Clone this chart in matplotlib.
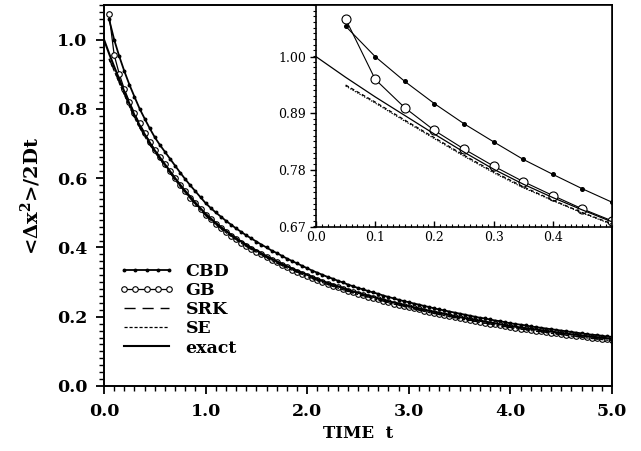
import numpy as np
import matplotlib
matplotlib.use("Agg")
import matplotlib.pyplot as plt
from matplotlib.ticker import MultipleLocator

plt.rcParams['font.family'] = ['DejaVu Serif']
plt.rcParams['mathtext.fontset'] = 'custom'
plt.rcParams['mathtext.rm'] = 'DejaVu Serif:bold'
plt.rcParams['mathtext.default'] = 'rm'

# ---------------- data ----------------
time_step = 0.05
t_mark = np.round(np.arange(1, 101) * time_step, 2)          # 0.05 ... 5.00
t_exact = np.round(np.arange(0, 101) * time_step, 2)         # 0.00 ... 5.00
t_coarse = np.round(np.r_[np.arange(1, 11) * 0.05, np.arange(6, 51) * 0.1], 2)

exact = [1.000, 0.960, 0.922, 0.886, 0.850, 0.815, 0.782, 0.753, 0.727, 0.703,
         0.680, 0.660, 0.640, 0.620, 0.600, 0.581, 0.563, 0.546, 0.529, 0.513,
         0.497, 0.484, 0.471, 0.459, 0.448, 0.437, 0.427, 0.417, 0.408, 0.399,
         0.391, 0.383, 0.375, 0.367, 0.360, 0.353, 0.346, 0.339, 0.333, 0.327,
         0.321, 0.315, 0.309, 0.303, 0.298, 0.293, 0.288, 0.283, 0.278, 0.273,
         0.269, 0.265, 0.261, 0.257, 0.253, 0.249, 0.245, 0.241, 0.238, 0.234,
         0.231, 0.227, 0.224, 0.220, 0.217, 0.214, 0.211, 0.208, 0.205, 0.202,
         0.199, 0.196, 0.194, 0.191, 0.188, 0.186, 0.183, 0.181, 0.178, 0.176,
         0.173, 0.171, 0.169, 0.167, 0.165, 0.163, 0.161, 0.159, 0.157, 0.155,
         0.153, 0.151, 0.149, 0.148, 0.146, 0.144, 0.142, 0.141, 0.139, 0.138,
         0.136]

gb = [1.073, 0.956, 0.901, 0.857, 0.821, 0.788, 0.758, 0.731, 0.705, 0.682,
      0.661, 0.640, 0.620, 0.600, 0.580, 0.562, 0.544, 0.527, 0.511, 0.495,
      0.481, 0.468, 0.456, 0.445, 0.434, 0.424, 0.414, 0.405, 0.396, 0.388,
      0.380, 0.372, 0.364, 0.357, 0.350, 0.343, 0.336, 0.330, 0.324, 0.318,
      0.312, 0.306, 0.300, 0.295, 0.290, 0.285, 0.280, 0.275, 0.270, 0.266,
      0.262, 0.258, 0.254, 0.250, 0.246, 0.242, 0.238, 0.235, 0.231, 0.228,
      0.224, 0.221, 0.217, 0.214, 0.211, 0.208, 0.205, 0.202, 0.199, 0.196,
      0.193, 0.191, 0.188, 0.185, 0.183, 0.180, 0.178, 0.175, 0.173, 0.170,
      0.168, 0.166, 0.164, 0.162, 0.160, 0.158, 0.156, 0.154, 0.152, 0.150,
      0.148, 0.146, 0.145, 0.143, 0.141, 0.139, 0.138, 0.136, 0.135, 0.133]

cbd = [1.059, 1.000, 0.952, 0.909, 0.870, 0.835, 0.801, 0.772, 0.744, 0.718,
       0.696, 0.676, 0.656, 0.636, 0.616, 0.597, 0.579, 0.562, 0.545, 0.528,
       0.514, 0.501, 0.489, 0.477, 0.466, 0.455, 0.445, 0.435, 0.426, 0.417,
       0.408, 0.400, 0.391, 0.384, 0.376, 0.368, 0.361, 0.354, 0.347, 0.340,
       0.333, 0.327, 0.321, 0.315, 0.310, 0.304, 0.299, 0.293, 0.288, 0.283,
       0.279, 0.274, 0.270, 0.266, 0.261, 0.257, 0.253, 0.249, 0.245, 0.242,
       0.238, 0.235, 0.231, 0.228, 0.224, 0.221, 0.218, 0.215, 0.212, 0.209,
       0.206, 0.203, 0.200, 0.197, 0.195, 0.192, 0.189, 0.187, 0.184, 0.181,
       0.179, 0.177, 0.175, 0.172, 0.170, 0.168, 0.166, 0.164, 0.162, 0.160,
       0.158, 0.156, 0.154, 0.152, 0.150, 0.148, 0.147, 0.145, 0.143, 0.142]

srk = [0.945, 0.912, 0.877, 0.843, 0.809, 0.777, 0.748, 0.722, 0.698, 0.676,
       0.636, 0.596, 0.559, 0.525, 0.493, 0.467, 0.444, 0.423, 0.404, 0.387,
       0.371, 0.356, 0.342, 0.329, 0.317, 0.305, 0.294, 0.284, 0.274, 0.265,
       0.257, 0.249, 0.241, 0.234, 0.227, 0.220, 0.213, 0.207, 0.201, 0.195,
       0.190, 0.184, 0.179, 0.174, 0.169, 0.165, 0.161, 0.157, 0.153, 0.149,
       0.145, 0.142, 0.138, 0.135, 0.132]

se = [0.943, 0.910, 0.875, 0.841, 0.807, 0.775, 0.746, 0.721, 0.697, 0.675,
      0.635, 0.595, 0.558, 0.524, 0.492, 0.466, 0.443, 0.422, 0.403, 0.386,
      0.370, 0.355, 0.341, 0.328, 0.316, 0.304, 0.293, 0.283, 0.273, 0.264,
      0.256, 0.248, 0.240, 0.233, 0.226, 0.219, 0.212, 0.206, 0.200, 0.194,
      0.189, 0.183, 0.178, 0.173, 0.168, 0.164, 0.160, 0.156, 0.152, 0.148,
      0.144, 0.141, 0.137, 0.134, 0.131]

labels = ['CBD', 'GB', 'SRK', 'SE', 'exact']
main_xticks = [0, 1, 2, 3, 4, 5]
main_yticks = [0.0, 0.2, 0.4, 0.6, 0.8, 1.0]
inset_yticks = [0.67, 0.78, 0.89, 1.00]
inset_xticks = [0.0, 0.1, 0.2, 0.3, 0.4]

# ---------------- figure ----------------
W, H = 641, 451
fig = plt.figure(figsize=(W / 100, H / 100), dpi=100)

def fr(x0, y0, x1, y1):
    return [x0 / W, 1 - y1 / H, (x1 - x0) / W, (y1 - y0) / H]

ax = fig.add_axes(fr(104, 5, 612, 386))
bold = dict(fontweight='bold', fontsize=12.5)

ax.plot(t_mark, cbd, '-', color='black', lw=1.3, marker='o', ms=1.8, label=labels[0])
ax.plot(t_mark, gb, '-', color='black', lw=0.9, marker='o', ms=4.0, mfc='white',
        mec='black', mew=0.8, label=labels[1])
ax.plot(t_coarse, srk, color='black', lw=1.0, dashes=(8, 5), label=labels[2])
ax.plot(t_coarse, se, color='black', lw=0.9, dashes=(2.5, 1.5), label=labels[3])
ax.plot(t_exact, exact, '-', color='black', lw=1.5, label=labels[4])

ax.set_xlim(0, 5.0)
ax.set_ylim(0, 1.1)
ax.set_xticks(main_xticks)
ax.set_xticklabels([f'{v:.1f}' for v in main_xticks], **bold)
ax.set_yticks(main_yticks)
ax.set_yticklabels([f'{v:.1f}' for v in main_yticks], **bold)
ax.xaxis.set_minor_locator(MultipleLocator(0.1))
ax.yaxis.set_minor_locator(MultipleLocator(0.02))
ax.tick_params(which='major', direction='out', length=6, width=1.3, pad=6)
ax.tick_params(which='minor', direction='out', length=3.5, width=1.0)
for s in ax.spines.values():
    s.set_linewidth(1.4)

ax.set_xlabel('TIME  t', fontweight='bold', fontsize=12, labelpad=4)
ax.set_ylabel('<Δx$^{2}$>/2Dt', fontweight='bold', fontsize=14, labelpad=10)

leg = ax.legend(loc='upper left', bbox_to_anchor=(0.012, 0.345), frameon=False,
                numpoints=5, handlelength=3.2, handletextpad=0.65,
                labelspacing=0.12, borderpad=0.0,
                prop=dict(family='DejaVu Serif', weight='bold', size=12.5))

# ---------------- inset ----------------
ax2 = fig.add_axes(fr(316, 5, 612, 227))
m = t_mark <= 0.5 + 1e-9
ax2.plot(t_mark[m], np.array(cbd)[m], '-', color='black', lw=0.8, marker='o', ms=2.6)
ax2.plot(t_mark[m], np.array(gb)[m], '-', color='black', lw=0.8, marker='o', ms=6.5,
         mfc='white', mec='black', mew=0.8)
mc = t_coarse <= 0.5 + 1e-9
ax2.plot(t_coarse[mc], np.array(srk)[mc], color='black', lw=0.9, dashes=(3, 2))
ax2.plot(t_coarse[mc], np.array(se)[mc], color='black', lw=0.8, dashes=(1.2, 1.2))
me = t_exact <= 0.5 + 1e-9
ax2.plot(t_exact[me], np.array(exact)[me], '-', color='black', lw=0.9)
ax2.set_xlim(0, 0.5)
ax2.set_ylim(0.67, 1.10)
ax2.set_xticks(inset_xticks)
ax2.set_xticklabels([f'{v:.1f}' for v in inset_xticks], fontsize=9)
ax2.set_yticks(inset_yticks)
ax2.set_yticklabels([f'{v:.2f}' for v in inset_yticks], fontsize=9)
ax2.xaxis.set_minor_locator(MultipleLocator(0.01))
ax2.yaxis.set_minor_locator(MultipleLocator(0.011))
ax2.tick_params(axis='y', which='major', direction='out', length=4, width=1.0, pad=3)
ax2.tick_params(axis='y', which='minor', direction='out', length=2.5, width=0.8)
ax2.tick_params(axis='x', which='major', direction='in', length=4, width=1.0, pad=3)
ax2.tick_params(axis='x', which='minor', direction='in', length=2.5, width=0.8)
for s in ax2.spines.values():
    s.set_linewidth(1.2)

fig.savefig('out.png', dpi=100)
